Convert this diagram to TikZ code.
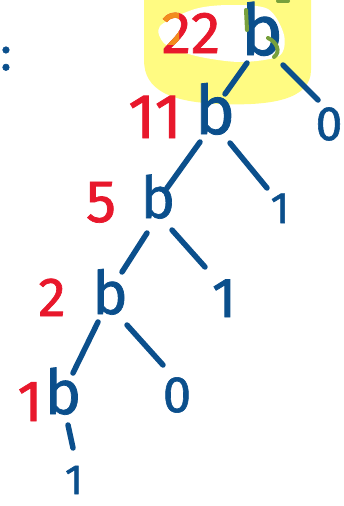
\documentclass[tikz,border=0pt]{standalone}
\usepackage{fontspec}
\setmainfont{Fira Sans}[FakeBold=1.2]
\definecolor{inkblue}{RGB}{11,79,140}
\definecolor{inkred}{RGB}{232,24,44}
\definecolor{hiyellow}{RGB}{255,251,130}
\definecolor{inkorange}{RGB}{242,140,30}
\definecolor{inkgreen}{RGB}{120,160,60}
\newcommand{\fsz}[1]{\fontsize{#1}{#1}\selectfont}
\tikzset{
  lbl/.style={inner sep=0pt, anchor=base},
  bnode/.style={lbl, text=inkblue, font=\fsz{70}},
  num/.style={lbl, text=inkred},
  leaf/.style={lbl, text=inkblue},
  edge/.style={draw=inkblue, line width=5.5pt, line cap=round},
  greenmark/.style={draw=inkgreen, line width=4pt, line cap=round},
}
\begin{document}
\begin{tikzpicture}[x=1pt,y=-1pt]
\useasboundingbox (0,0) rectangle (344,506);
% highlight
\fill[hiyellow] (144,-5) -- (144,60) .. controls (144,90) and (170,102) .. (220,104)
  .. controls (270,106) and (311,100) .. (311,70) -- (311,-5) -- cycle;
\fill[white] plot[smooth cycle] coordinates {(160,26) (195,9) (230,5) (268,9) (284,35) (279,56) (240,62) (196,56) (165,44)};
% labels
\node[leaf, font=\fsz{47}] (colon) at (6,70) {:};
\node[bnode, font=\fsz{71}] (b22) at (262,55) {b};
\node[num, font=\fsz{59}] (n22) at (191,53) {22};
\begin{scope}
  \clip (150,0) rectangle (179,44);
  \node[num, text=inkorange, font=\fsz{59}] (n22hi) at (191,53) {22};
\end{scope}
\node[bnode, font=\fsz{68}] (b11) at (215,134) {b};
\node[num, font=\fsz{63}] (n11) at (155,138) {11};
\node[bnode, font=\fsz{58}] (b5) at (158,218) {b};
\node[num, font=\fsz{60}] (n5) at (101,222) {5};
\node[bnode, font=\fsz{60}] (b2) at (110,314) {b};
\node[num, font=\fsz{55}] (n2) at (52,316) {2};
\node[bnode, font=\fsz{62}] (b1) at (63,414) {b};
\node[num, font=\fsz{58}] (n1) at (30,421) {1};
\node[leaf, font=\fsz{48}] (l0a) at (329,140) {0};
\node[leaf, font=\fsz{44}] (l1a) at (280,223) {1};
\node[leaf, font=\fsz{56}] (l1b) at (224,317) {1};
\node[leaf, font=\fsz{51}] (l0b) at (177,412) {0};
\node[leaf, font=\fsz{42}] (l1c) at (74,494) {1};
% green marks
\draw[greenmark] (246,10) -- (247,30);
\draw[greenmark] (268,38) .. controls (277,42) and (281,52) .. (274,57);
\draw[greenmark] (278,1) -- (288,1);
% edges
\draw[edge] ([shift={(-15,8)}]b22.base) -- ([shift={(10,-40)}]b11.base);
\draw[edge] ([shift={(21,10)}]b22.base) -- ([shift={(-11,-40)}]l0a.base);
\draw[edge] ([shift={(-15,8)}]b11.base) -- ([shift={(9,-30)}]b5.base);
\draw[edge] ([shift={(15,9)}]b11.base) -- ([shift={(-13,-35)}]l1a.base);
\draw[edge] ([shift={(-11,15)}]b5.base) -- ([shift={(12,-42)}]b2.base);
\draw[edge] ([shift={(14,12)}]b5.base) -- ([shift={(-19,-50)}]l1b.base);
\draw[edge] ([shift={(-12,8)}]b2.base) -- ([shift={(10,-41)}]b1.base);
\draw[edge] ([shift={(17,11)}]b2.base) -- ([shift={(-14,-47)}]l0b.base);
\draw[edge] ([shift={(5,11)}]b1.base) -- ([shift={(-1,-46)}]l1c.base);
\end{tikzpicture}
\end{document}
